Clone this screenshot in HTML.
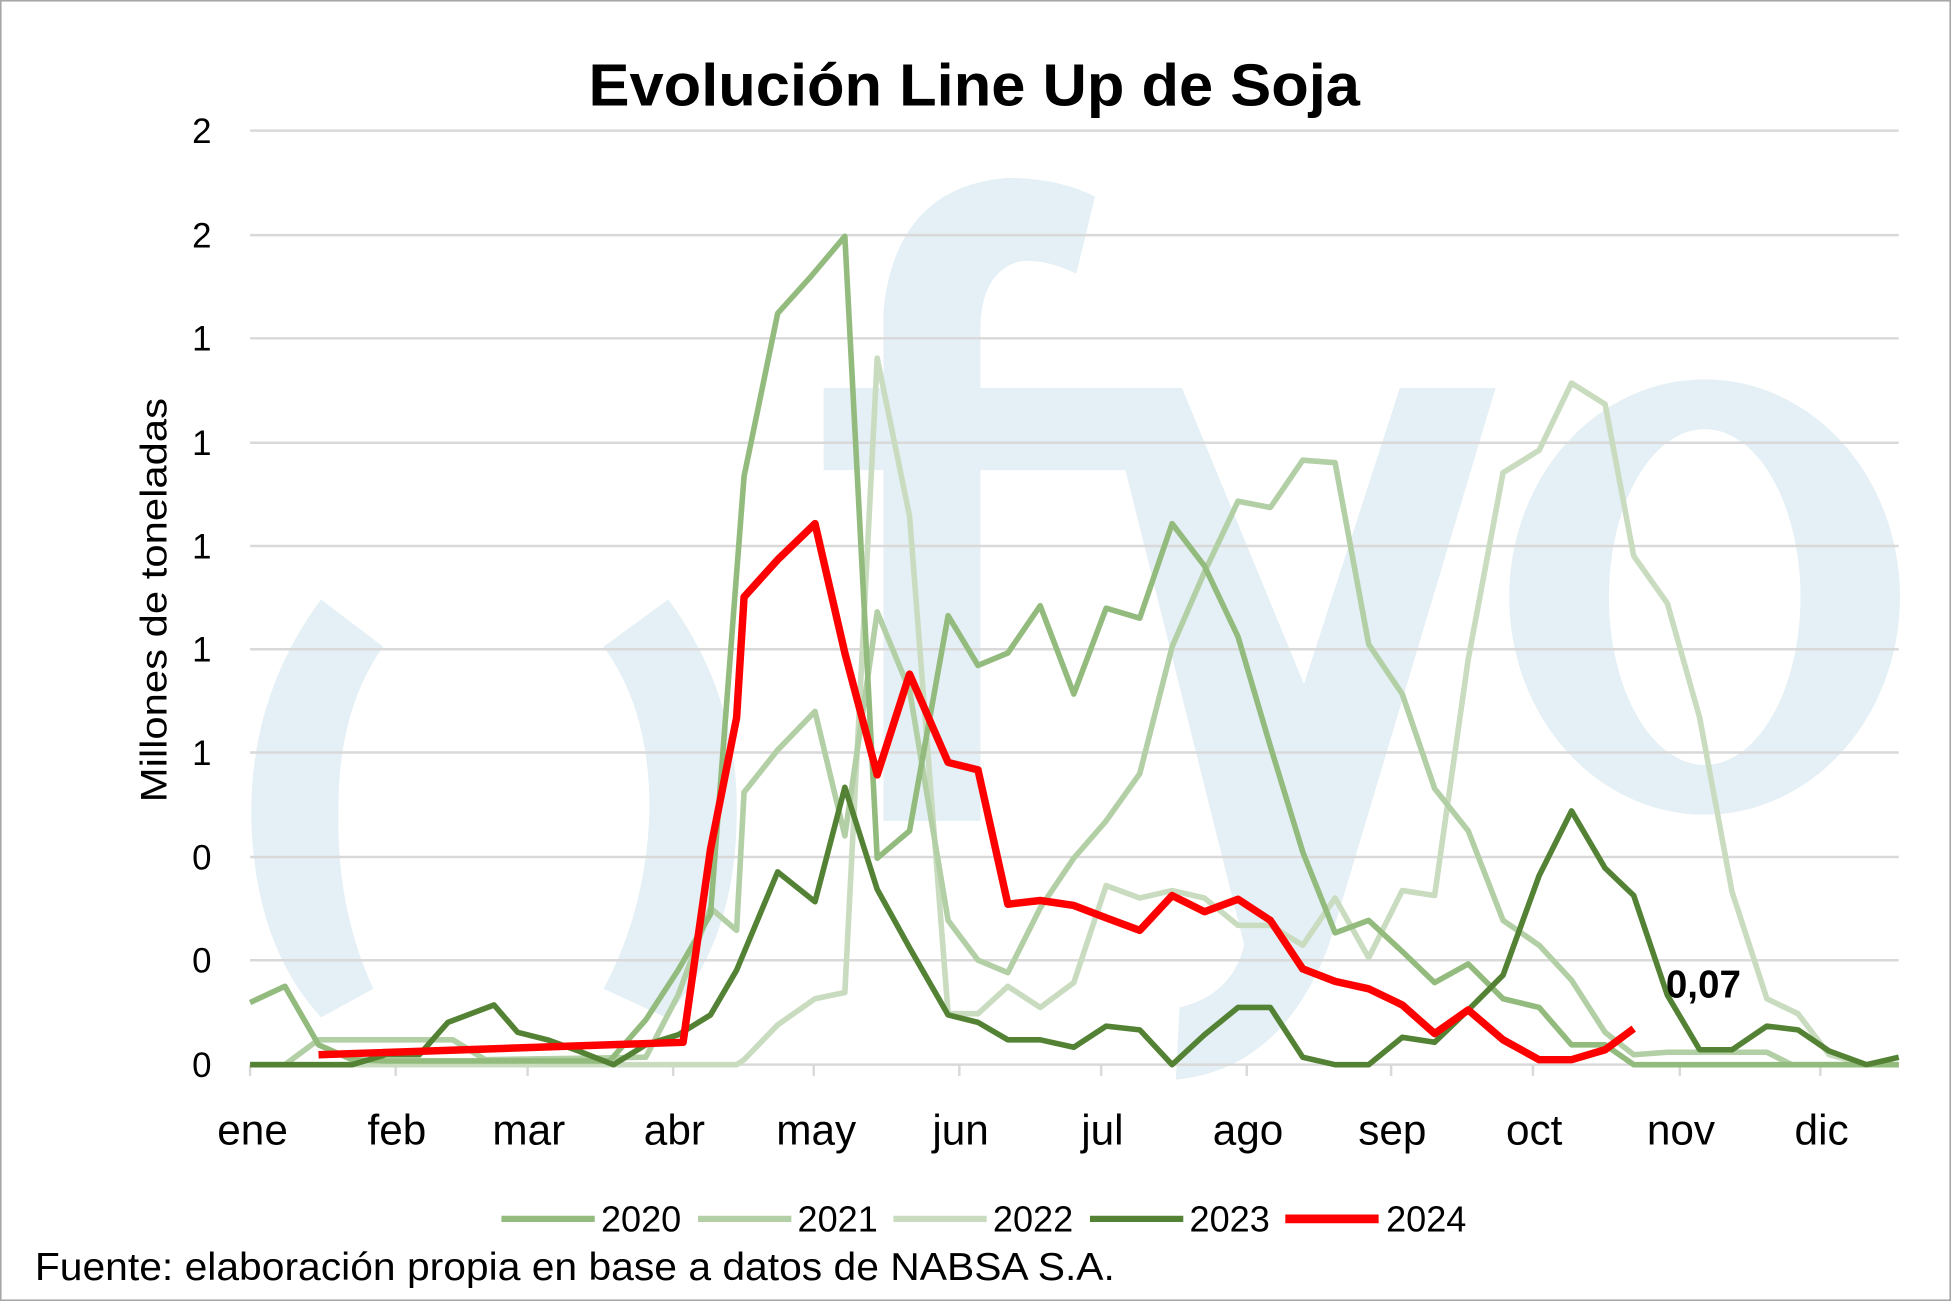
<!DOCTYPE html>
<html><head><meta charset="utf-8"><style>html,body{margin:0;padding:0;background:#fff}svg{display:block}</style></head>
<body>
<svg width="1951" height="1301" viewBox="0 0 1568 1046" preserveAspectRatio="none" xmlns="http://www.w3.org/2000/svg" font-family="Liberation Sans, sans-serif">
<rect x="0.5" y="0.5" width="1567" height="1045" fill="#fff" stroke="#a6a6a6" stroke-width="1.5"/>
<g fill="#e4f0f5">
<path d="M258,482 Q200,560 202,660 Q205,760 258,818 L300,795 Q270,730 272,650 Q272,570 308,520 Z"/>
<path d="M537,482 Q595,560 592,660 Q590,760 535,818 L485,795 Q520,730 522,650 Q522,570 485,520 Z"/>
<path d="M710,660 L710,250 Q720,150 810,143 Q850,143 880,158 L865,220 Q840,208 820,210 Q790,218 788,260 L788,312 L950,312 L950,378 L788,378 L788,660 Z"/>
<rect x="662" y="312" width="60" height="66"/>
<path d="M888,312 L950,312 L1048,550 L1125,312 L1202,312 L1068,760 Q1030,860 945,868 L948,810 Q990,800 1000,760 Z"/>
<path fill-rule="evenodd" d="M1370,305 A157,175 0 1 1 1369.9,305 Z M1370,345 A77,135 0 1 0 1370.1,345 Z"/>
</g>
<g stroke="#d9d9d9" stroke-width="2">
<line x1="201" x2="1526" y1="105" y2="105"/><line x1="201" x2="1526" y1="189" y2="189"/><line x1="201" x2="1526" y1="272" y2="272"/><line x1="201" x2="1526" y1="356" y2="356"/><line x1="201" x2="1526" y1="439" y2="439"/><line x1="201" x2="1526" y1="522" y2="522"/><line x1="201" x2="1526" y1="605" y2="605"/><line x1="201" x2="1526" y1="689" y2="689"/><line x1="201" x2="1526" y1="772" y2="772"/><line x1="201" x2="1526" y1="856" y2="856"/>
</g>
<g stroke="#d9d9d9" stroke-width="2"><line x1="201" x2="201" y1="856" y2="865"/><line x1="318" x2="318" y1="856" y2="865"/><line x1="424" x2="424" y1="856" y2="865"/><line x1="541" x2="541" y1="856" y2="865"/><line x1="654" x2="654" y1="856" y2="865"/><line x1="771" x2="771" y1="856" y2="865"/><line x1="885" x2="885" y1="856" y2="865"/><line x1="1002" x2="1002" y1="856" y2="865"/><line x1="1118" x2="1118" y1="856" y2="865"/><line x1="1232" x2="1232" y1="856" y2="865"/><line x1="1350" x2="1350" y1="856" y2="865"/><line x1="1463" x2="1463" y1="856" y2="865"/></g>
<g fill="none" stroke-width="4.5" stroke-linejoin="round">
<polyline stroke="#c9dcbf" points="201,856 592,856 598,852 625,824 655,803 679,798 705,288 731,415 762,815 786,815 810,793 836,810 863,790 889,712 916,722 942,716 968,722 995,744 1021,744 1047,760 1073,722 1100,770 1127,716 1153,720 1180,530 1208,380 1237,362 1263,308 1290,325 1313,447 1340,485 1366,577 1392,717 1420,803 1445,815 1470,848 1500,856 1526,856"/>
<polyline stroke="#b3cfa6" points="201,856 229,856 256,836 283,836 310,836 337,836 364,836 390,852 519,850 545,800 571,730 592,748 598,637 625,603 655,572 679,672 705,492 731,555 762,740 786,772 810,782 836,730 863,690 889,660 916,622 942,520 968,460 995,403 1021,408 1047,370 1073,372 1100,518 1127,558 1153,634 1180,668 1208,740 1237,760 1263,788 1290,830 1313,848 1340,846 1400,846 1420,846 1440,856 1526,856"/>
<polyline stroke="#93bb7e" points="201,806 229,793 256,840 283,852 310,853 490,853 519,820 545,780 571,735 598,383 625,252 652,222 679,190 705,690 731,668 762,495 786,535 810,525 836,487 863,558 889,489 916,497 942,421 968,455 995,512 1021,600 1047,685 1073,750 1100,740 1127,765 1153,790 1180,775 1208,803 1237,810 1263,840 1290,840 1313,856 1526,856"/>
<polyline stroke="#548235" points="201,856 283,856 310,848 337,848 360,822 397,808 416,830 440,836 465,845 493,856 519,840 545,832 571,816 592,780 625,701 655,725 679,633 705,715 731,762 762,816 786,822 810,836 836,836 863,842 889,825 916,828 942,856 968,832 995,810 1021,810 1047,850 1073,856 1100,856 1127,834 1153,838 1180,812 1208,784 1237,704 1263,652 1290,698 1313,720 1340,800 1366,844 1392,844 1420,825 1445,828 1470,845 1500,856 1526,850"/>
<polyline stroke="#ff0000" stroke-width="6" points="256,848 549,838 571,683 592,577 598,480 625,450 655,421 679,525 705,623 731,542 762,613 786,619 810,727 836,724 863,728 889,738 916,748 942,720 968,733 995,723 1021,740 1047,779 1073,789 1100,795 1127,808 1153,831 1180,812 1208,836 1237,852 1263,852 1290,844 1313,827"/>
</g>
<text x="473" y="85" textLength="620" lengthAdjust="spacingAndGlyphs" font-size="48" font-weight="bold">Evolución Line Up de Soja</text>
<g font-size="28" text-anchor="end" fill="#000">
<text x="170" y="115">2</text><text x="170" y="199">2</text><text x="170" y="282">1</text><text x="170" y="366">1</text><text x="170" y="449">1</text><text x="170" y="532">1</text><text x="170" y="615">1</text><text x="170" y="699">0</text><text x="170" y="782">0</text><text x="170" y="866">0</text>
</g>
<text transform="translate(134,645) rotate(-90)" textLength="325" lengthAdjust="spacingAndGlyphs" font-size="30">Millones de toneladas</text>
<g font-size="34" text-anchor="middle">
<text x="203" y="920">ene</text><text x="319" y="920">feb</text><text x="425" y="920">mar</text><text x="542" y="920">abr</text><text x="656" y="920">may</text><text x="772" y="920">jun</text><text x="886" y="920">jul</text><text x="1003" y="920">ago</text><text x="1119" y="920">sep</text><text x="1233" y="920">oct</text><text x="1351" y="920">nov</text><text x="1464" y="920">dic</text>
</g>
<text x="1369" y="802" text-anchor="middle" font-size="31" font-weight="bold">0,07</text>
<g stroke-width="5">
<line x1="403" x2="478" y1="980" y2="980" stroke="#93bb7e"/><line x1="561" x2="636" y1="980" y2="980" stroke="#b3cfa6"/><line x1="718" x2="793" y1="980" y2="980" stroke="#c9dcbf"/><line x1="876" x2="951" y1="980" y2="980" stroke="#548235"/><line x1="1033" x2="1108" y1="980" y2="980" stroke="#ff0000" stroke-width="7"/>
</g>
<g font-size="29"><text x="483" y="990">2020</text><text x="641" y="990">2021</text><text x="798" y="990">2022</text><text x="956" y="990">2023</text><text x="1114" y="990">2024</text></g>
<text x="28" y="1029" textLength="868" lengthAdjust="spacingAndGlyphs" font-size="31">Fuente: elaboración propia en base a datos de NABSA S.A.</text>
</svg>
</body></html>
